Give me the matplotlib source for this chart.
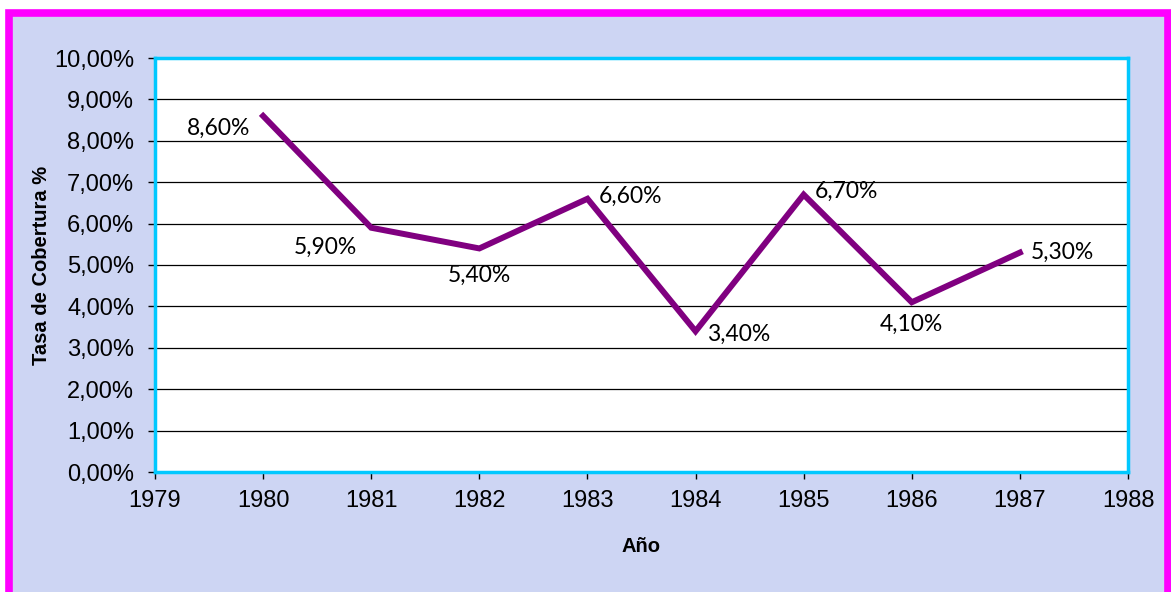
import matplotlib
matplotlib.use("Agg")
import matplotlib.pyplot as plt
from matplotlib.patches import Rectangle
from matplotlib.ticker import FuncFormatter, MultipleLocator

years = [1980, 1981, 1982, 1983, 1984, 1985, 1986, 1987]
rates = [0.086, 0.059, 0.054, 0.066, 0.034, 0.067, 0.041, 0.053]
labels = ["8,60%", "5,90%", "5,40%", "6,60%", "3,40%", "6,70%", "4,10%", "5,30%"]
# where each data label sits relative to its point (offset in points, alignment)
label_pos = [(-9, -9, "right", "center"), (-10, -14, "right", "center"),
             (0, -12, "center", "top"), (8, 2, "left", "center"),
             (8, -2, "left", "center"), (8, 2, "left", "center"),
             (0, -8, "center", "top"), (8, 0, "left", "center")]

plt.rcParams['font.family'] = ['Liberation Sans', 'DejaVu Sans']

W, H = 1171, 592
fig = plt.figure(figsize=(W / 100, H / 100), dpi=100)
fig.patch.set_facecolor("white")

# background panel with magenta frame
bg = Rectangle((8.5 / W, -0.05), (1167.5 - 8.5) / W, 1.05 - 13.5 / H,
               transform=fig.transFigure, facecolor="#cdd5f3",
               edgecolor="#ff00ff", linewidth=5.5, zorder=-10)
fig.patches.append(bg)

ax = fig.add_axes([155 / W, (H - 472) / H, (1128 - 155) / W, (472 - 58) / H])
ax.set_zorder(5)
ax.set_facecolor("white")

ax.plot(years, rates, color="#800080", linewidth=4.3, solid_joinstyle="miter", zorder=3)

for x, y, t, (dx, dy, ha, va) in zip(years, rates, labels, label_pos):
    ax.annotate(t, (x, y), xytext=(dx, dy), textcoords="offset points",
                ha=ha, va=va, fontsize=16.5, family=["Lato", "DejaVu Sans"], zorder=4)

ax.set_xlim(1979, 1988)
ax.set_ylim(0, 0.10)
ax.xaxis.set_major_locator(MultipleLocator(1))
ax.yaxis.set_major_locator(MultipleLocator(0.01))
ax.yaxis.set_major_formatter(FuncFormatter(lambda v, p: f"{v * 100:.2f}%".replace(".", ",")))
ax.grid(axis="y", color="black", linewidth=0.9)
ax.set_axisbelow(True)

for s in ax.spines.values():
    s.set_color("#00c8ff")
    s.set_linewidth(2.5)

ax.tick_params(axis="both", direction="out", length=5, width=1, color="black",
               labelsize=17)
ax.tick_params(axis="y", pad=10)
ax.tick_params(axis="x", pad=8)

ax.set_xlabel("Año", fontsize=14.5, fontweight="bold", labelpad=18)
ax.set_ylabel("Tasa de Cobertura %", fontsize=14.5, fontweight="bold", labelpad=2)

fig.savefig("out.png", dpi=100)
